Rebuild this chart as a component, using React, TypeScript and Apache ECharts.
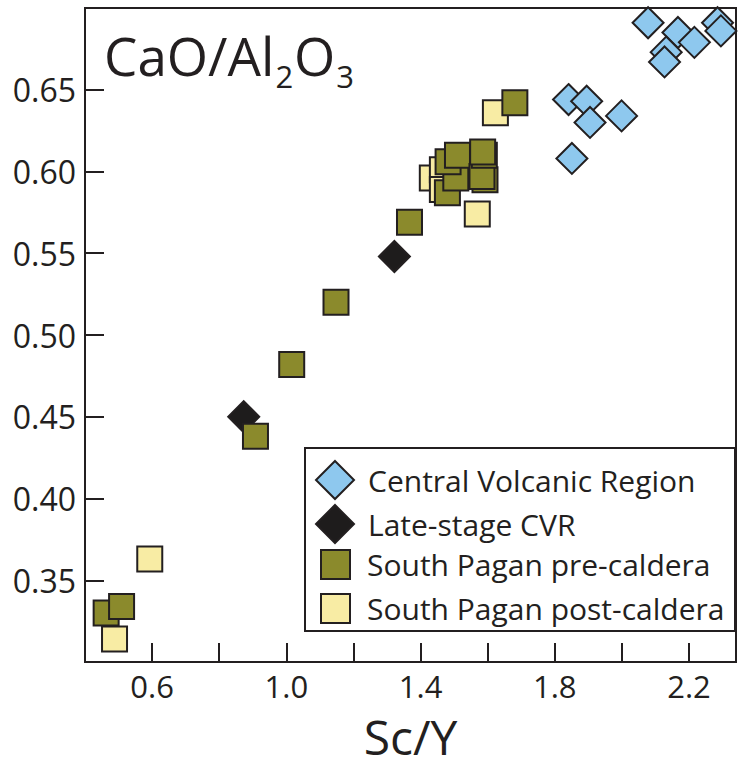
import React, { useEffect, useRef } from "react";
import * as echarts from "echarts";

// Sc/Y versus CaO/Al2O3 for Pagan lavas
const cvrPoints = [
  [2.078, 0.691], [2.167, 0.685], [2.285, 0.691], [2.295, 0.686],
  [2.216, 0.679], [2.132, 0.673], [2.127, 0.667], [1.841, 0.644],
  [1.895, 0.643], [1.905, 0.630], [1.999, 0.634], [1.851, 0.608],
];
const lateStagePoints = [
  [0.873, 0.450], [1.322, 0.548],
];
const preCalderaPoints = [
  [0.463, 0.330], [0.509, 0.334], [0.908, 0.438], [1.016, 0.482],
  [1.148, 0.520], [1.367, 0.569], [1.480, 0.587], [1.505, 0.596],
  [1.482, 0.606], [1.510, 0.610], [1.592, 0.595], [1.583, 0.597],
  [1.590, 0.610], [1.585, 0.612], [1.681, 0.642],
];
const postCalderaPoints = [
  [0.488, 0.314], [0.593, 0.363], [1.435, 0.596], [1.465, 0.601],
  [1.465, 0.589], [1.569, 0.574], [1.623, 0.636],
];
const seriesNames = [
  "Central Volcanic Region",
  "Late-stage CVR",
  "South Pagan pre-caldera",
  "South Pagan post-caldera",
];
const xLabelTicks = ["0.6", "1.0", "1.4", "1.8", "2.2"];
const yLabelTicks = ["0.35", "0.40", "0.45", "0.50", "0.55", "0.60", "0.65"];

const FONT = "'Open Sans', 'Noto Sans', sans-serif";
const INK = "#231f20";

export default function App() {
  const ref = useRef<HTMLDivElement>(null);

  useEffect(() => {
    if (!ref.current) return;
    document.body.style.margin = "0";
    const chart = echarts.init(ref.current, undefined, { renderer: "svg" });

    const edge = { borderColor: INK, borderWidth: 2, opacity: 1 };

    chart.setOption({
      animation: false,
      backgroundColor: "#ffffff",
      grid: {
        left: 85,
        top: 8,
        width: 655,
        height: 654,
        show: true,
        borderColor: INK,
        borderWidth: 2,
        backgroundColor: "transparent",
      },
      xAxis: {
        type: "value",
        min: 0.4,
        max: 2.34,
        interval: 0.2,
        axisLine: { show: true, onZero: false, lineStyle: { color: INK, width: 2 } },
        axisTick: { show: true, inside: true, length: 19, lineStyle: { color: INK, width: 2 } },
        splitLine: { show: false },
        axisLabel: {
          fontSize: 31,
          fontFamily: FONT,
          color: INK,
          margin: 8,
          formatter: (v: number) => {
            const s = v.toFixed(1);
            return xLabelTicks.includes(s) ? s : "";
          },
        },
        name: "Sc/Y",
        nameLocation: "middle",
        nameGap: 50,
        nameTextStyle: { fontSize: 48, lineHeight: 48, fontFamily: FONT, color: INK },
      },
      yAxis: {
        type: "value",
        min: 0.3,
        max: 0.7,
        interval: 0.05,
        axisLine: { show: true, onZero: false, lineStyle: { color: INK, width: 2 } },
        axisTick: { show: true, inside: true, length: 19, lineStyle: { color: INK, width: 2 } },
        splitLine: { show: false },
        axisLabel: {
          fontSize: 32,
          fontFamily: FONT,
          color: INK,
          margin: 9,
          formatter: (v: number) => {
            const s = v.toFixed(2);
            return yLabelTicks.includes(s) ? s : "";
          },
        },
      },
      legend: [
        {
          data: [seriesNames[0], seriesNames[1]],
          orient: "vertical",
          left: 315,
          top: 460,
          padding: 0,
          itemWidth: 38,
          itemHeight: 38,
          itemGap: 4,
          selectedMode: false,
          z: 10,
          textStyle: { fontSize: 30, fontFamily: FONT, color: INK, padding: [0, 0, 0, 9] },
        },
        {
          data: [seriesNames[2], seriesNames[3]],
          orient: "vertical",
          left: 320,
          top: 549,
          padding: 0,
          itemWidth: 29,
          itemHeight: 29,
          itemGap: 13,
          selectedMode: false,
          z: 10,
          textStyle: { fontSize: 30, fontFamily: FONT, color: INK, padding: [0, 0, 0, 12] },
        },
      ],
      graphic: [
        {
          type: "rect",
          z: 5,
          shape: { x: 305, y: 448, width: 430, height: 183 },
          style: { fill: "#ffffff", stroke: INK, lineWidth: 2 },
        },
        {
          type: "text",
          left: 104,
          top: 24,
          z: 5,
          style: {
            text: "{a|CaO/Al}{s|2}{a|O}{s|3}",
            fill: INK,
            rich: {
              a: { fontSize: 53, fontFamily: FONT, fill: INK, lineHeight: 58, verticalAlign: "top" },
              s: { fontSize: 31, fontFamily: FONT, fill: INK, lineHeight: 31, padding: [36, 1, 0, 1] },
            },
          },
        },
      ],
      series: [
        {
          name: seriesNames[0],
          type: "scatter",
          data: cvrPoints,
          symbol: "diamond",
          symbolSize: 31,
          z: 3,
          itemStyle: { color: "#8ec8ee", ...edge },
        },
        {
          name: seriesNames[1],
          type: "scatter",
          data: lateStagePoints,
          symbol: "diamond",
          symbolSize: 31,
          z: 2,
          itemStyle: { color: "#1e1c1c", ...edge },
        },
        {
          name: seriesNames[2],
          type: "scatter",
          data: preCalderaPoints,
          symbol: "rect",
          symbolSize: 25,
          z: 4,
          itemStyle: { color: "#8b8a2c", ...edge },
        },
        {
          name: seriesNames[3],
          type: "scatter",
          data: postCalderaPoints,
          symbol: "rect",
          symbolSize: 25,
          z: 3,
          itemStyle: { color: "#f8eca4", ...edge },
        },
      ],
    });

    return () => chart.dispose();
  }, []);

  return <div ref={ref} style={{ width: 739, height: 770 }} />;
}
